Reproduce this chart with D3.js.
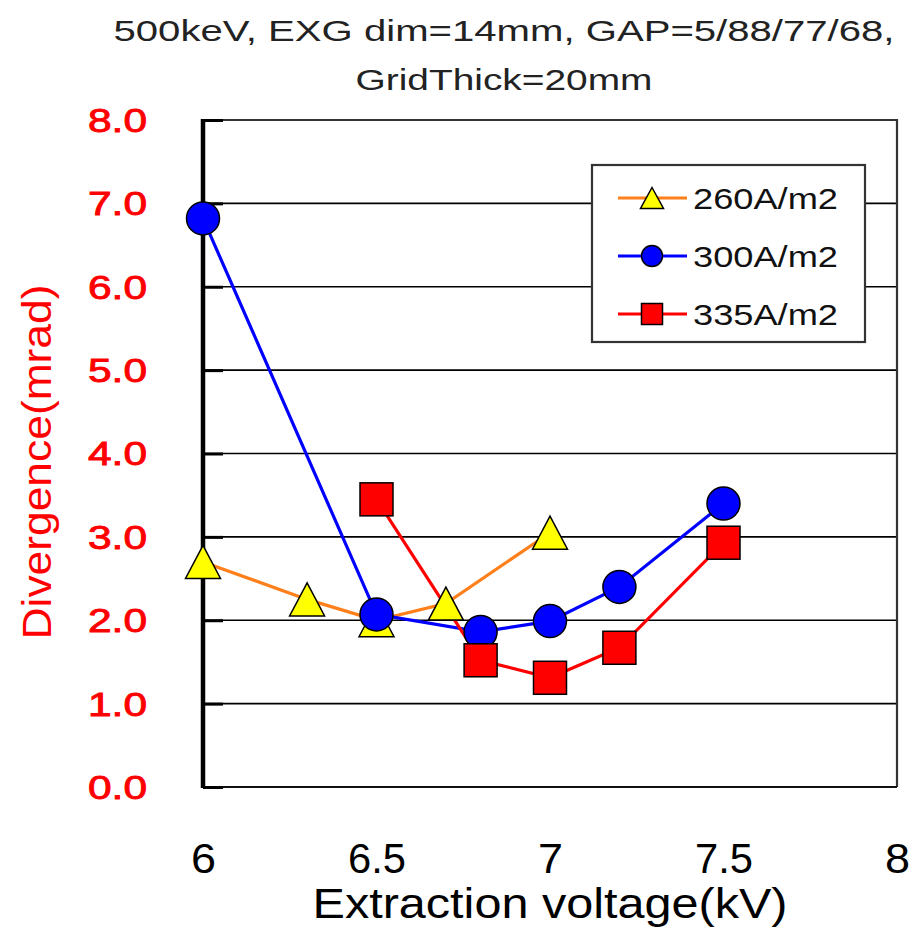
<!DOCTYPE html>
<html>
<head>
<meta charset="utf-8">
<script src="https://cdn.jsdelivr.net/npm/d3@7"></script>
<style>
  html, body { margin: 0; padding: 0; background: #fff; }
  svg { display: block; font-family: "Liberation Sans", Arial, sans-serif; }
</style>
</head>
<body>
<div id="chart"></div>
<script>
// values
var seriesNames = ["260A/m2", "300A/m2", "335A/m2"];
var volt260 = [6.0, 6.3, 6.5, 6.7, 7.0];
var div260 = [2.7, 2.25, 2.0, 2.2, 3.05];
var volt300 = [6.0, 6.5, 6.8, 7.0, 7.2, 7.5];
var div300 = [6.82, 2.07, 1.86, 1.99, 2.4, 3.4];
var volt335 = [6.5, 6.8, 7.0, 7.2, 7.5];
var div335 = [3.45, 1.52, 1.31, 1.67, 2.93];
var xTicks = [6, 6.5, 7, 7.5, 8];
var yTicks = [0, 1, 2, 3, 4, 5, 6, 7, 8];
var titleLines = ["500keV, EXG dim=14mm, GAP=5/88/77/68,", "GridThick=20mm"];

var lineColors = ["#ff7f1a", "#0000ff", "#ff0000"];
var markerFills = ["#ffff00", "#0000ff", "#ff0000"];
var markerShapes = ["triangle", "circle", "square"];

var series = [
  { name: seriesNames[0], pts: volt260.map(function (v, i) { return { x: v, y: div260[i] }; }) },
  { name: seriesNames[1], pts: volt300.map(function (v, i) { return { x: v, y: div300[i] }; }) },
  { name: seriesNames[2], pts: volt335.map(function (v, i) { return { x: v, y: div335[i] }; }) }
];

var W = 913, H = 933;
var margin = { top: 120, right: 16, bottom: 146, left: 203 };
var width = W - margin.left - margin.right, height = H - margin.top - margin.bottom;

var x = d3.scaleLinear().domain([6, 8]).range([0, width]);
var y = d3.scaleLinear().domain([0, 8]).range([height, 0]);

var svg = d3.select("#chart").append("svg")
    .attr("width", W)
    .attr("height", H);

// title
svg.append("g").attr("class", "title")
  .selectAll("text")
  .data(titleLines)
  .enter().append("text")
    .attr("x", 504)
    .attr("y", function (d, i) { return 41 + i * 49; })
    .attr("text-anchor", "middle")
    .attr("font-size", 30)
    .attr("fill", "#222")
    .attr("textLength", function (d, i) { return i === 0 ? 781 : 297; })
    .attr("lengthAdjust", "spacingAndGlyphs")
    .text(function (d) { return d; });

var g = svg.append("g")
    .attr("transform", "translate(" + margin.left + "," + margin.top + ")");

// grid lines
g.append("g").attr("class", "grid")
  .selectAll("line")
  .data(yTicks.filter(function (d) { return d > 0 && d < 8; }))
  .enter().append("line")
    .attr("x1", 0).attr("x2", width)
    .attr("y1", function (d) { return y(d); })
    .attr("y2", function (d) { return y(d); })
    .attr("stroke", "#000")
    .attr("stroke-width", 1.6);

// frame: top/right grey, bottom black
g.append("path")
    .attr("d", "M0," + y(8) + "H" + x(8) + "V" + y(0))
    .attr("fill", "none")
    .attr("stroke", "#333")
    .attr("stroke-width", 2.2);
g.append("line")
    .attr("x1", 0).attr("x2", x(8))
    .attr("y1", y(0)).attr("y2", y(0))
    .attr("stroke", "#111")
    .attr("stroke-width", 2.2);

// left axis with inward ticks
var yAxis = d3.axisRight(y).tickValues(yTicks).tickSize(20).tickFormat("");
var yAx = g.append("g").attr("class", "y axis").call(yAxis);
yAx.select(".domain").remove();
yAx.selectAll(".tick line").attr("stroke", "#000").attr("stroke-width", 3);
g.append("line")
    .attr("x1", 0).attr("x2", 0)
    .attr("y1", y(8) - 1).attr("y2", y(0) + 1)
    .attr("stroke", "#000")
    .attr("stroke-width", 4.5);

// y tick labels (red)
g.append("g").attr("class", "ylabels")
  .selectAll("text")
  .data(yTicks)
  .enter().append("text")
    .attr("x", -56)
    .attr("y", function (d) { return y(d); })
    .attr("dy", "0.36em")
    .attr("text-anchor", "end")
    .attr("font-size", 33)
    .attr("fill", "#ff0000")
    .attr("stroke", "#ff0000")
    .attr("stroke-width", 0.9)
    .attr("textLength", 59)
    .attr("lengthAdjust", "spacingAndGlyphs")
    .text(function (d) { return d3.format(".1f")(d); });

// x tick labels
var xAxis = d3.axisBottom(x).tickValues(xTicks).tickSize(0).tickPadding(0)
    .tickFormat(function (d) { return String(d); });
var xAx = g.append("g").attr("class", "x axis")
    .attr("transform", "translate(0," + height + ")")
    .call(xAxis);
xAx.select(".domain").remove();
xAx.selectAll(".tick text")
    .attr("y", 86)
    .attr("dy", 0)
    .attr("font-size", 42)
    .attr("font-family", "\"Liberation Sans\", Arial, sans-serif")
    .attr("fill", "#000")
    .each(function (d) {
      var t = d3.select(this).attr("lengthAdjust", "spacingAndGlyphs");
      t.attr("textLength", String(d).length > 1 ? 58 : 25);
    });

// axis titles
svg.append("text")
    .attr("x", margin.left + width / 2)
    .attr("y", 918)
    .attr("text-anchor", "middle")
    .attr("font-size", 42)
    .attr("fill", "#000")
    .attr("textLength", 475)
    .attr("lengthAdjust", "spacingAndGlyphs")
    .text("Extraction voltage(kV)");

svg.append("text")
    .attr("transform", "translate(51,462) rotate(-90)")
    .attr("text-anchor", "middle")
    .attr("font-size", 40)
    .attr("fill", "#ff0000")
    .attr("textLength", 355)
    .attr("lengthAdjust", "spacingAndGlyphs")
    .text("Divergence(mrad)");

// marker helper
function drawMarker(sel, shape, size, fill) {
  var h = size / 2;
  if (shape === "circle") {
    sel.append("circle").attr("r", h);
  } else if (shape === "square") {
    sel.append("rect").attr("x", -h).attr("y", -h).attr("width", size).attr("height", size);
  } else {
    sel.append("path").attr("d", "M0," + (-h) + "L" + (h + 1) + "," + h + "L" + (-h - 1) + "," + h + "Z");
  }
  sel.selectAll("*")
    .attr("fill", fill)
    .attr("stroke", "#000")
    .attr("stroke-width", 1.5);
}

var line = d3.line()
    .x(function (d) { return x(d.x); })
    .y(function (d) { return y(d.y); });

// lines first, then markers
g.append("g").attr("class", "lines")
  .selectAll("path")
  .data(series)
  .enter().append("path")
    .attr("d", function (d) { return line(d.pts); })
    .attr("fill", "none")
    .attr("stroke", function (d, i) { return lineColors[i]; })
    .attr("stroke-width", 3.2);

series.forEach(function (s, i) {
  g.append("g").attr("class", "markers")
    .selectAll("g")
    .data(s.pts)
    .enter().append("g")
      .attr("transform", function (d) { return "translate(" + x(d.x) + "," + y(d.y) + ")"; })
      .each(function () { drawMarker(d3.select(this), markerShapes[i], 33, markerFills[i]); });
});

// legend
var legend = svg.append("g").attr("class", "legend");
legend.append("rect")
    .attr("x", 592).attr("y", 165)
    .attr("width", 273).attr("height", 177)
    .attr("fill", "#fff")
    .attr("stroke", "#333")
    .attr("stroke-width", 2.2);

var rows = legend.selectAll(".row")
  .data(seriesNames)
  .enter().append("g")
    .attr("class", "row")
    .attr("transform", function (d, i) { return "translate(0," + (198 + i * 58) + ")"; });
rows.append("line")
    .attr("x1", 618).attr("x2", 687)
    .attr("stroke", function (d, i) { return lineColors[i]; })
    .attr("stroke-width", 3.2);
rows.append("g")
    .attr("transform", "translate(652,0)")
    .each(function (d, i) { drawMarker(d3.select(this), markerShapes[i], 21, markerFills[i]); });
rows.append("text")
    .attr("x", 693)
    .attr("y", 11)
    .attr("font-size", 30)
    .attr("fill", "#111")
    .attr("textLength", 145)
    .attr("lengthAdjust", "spacingAndGlyphs")
    .text(function (d) { return d; });
</script>
</body>
</html>
